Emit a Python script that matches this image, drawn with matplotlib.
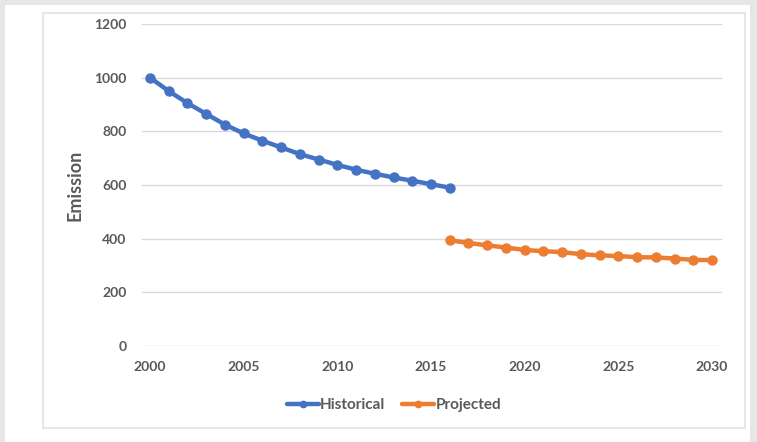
import matplotlib.pyplot as plt
from matplotlib.patches import Rectangle

# data
hist_years = list(range(2000, 2017))
hist_values = [1000, 950, 905, 865, 825, 792, 765, 740, 715, 695,
               675, 657, 642, 628, 616, 603, 590]
proj_years = list(range(2016, 2031))
proj_values = [394, 384, 375, 367, 358, 353, 350, 342, 338, 335,
               331, 330, 326, 321, 320]
x_ticks = [2000, 2005, 2010, 2015, 2020, 2025, 2030]
y_ticks = [0, 200, 400, 600, 800, 1000, 1200]

W, H = 757, 442
plt.rcParams['font.family'] = ['Lato', 'DejaVu Sans']
text_color = '#595959'

fig = plt.figure(figsize=(W / 100, H / 100), dpi=100)
fig.patch.set_facecolor('white')


def strip(x0, y0, w, h, **kw):
    # rectangle in pixel coords (y from the top), drawn behind the axes
    r = Rectangle((x0 / W, 1 - (y0 + h) / H), w / W, h / H,
                  transform=fig.transFigure, zorder=-5, **kw)
    fig.patches.append(r)


gray = '#e6e6e6'
strip(0, 0, 5, H, facecolor=gray, edgecolor='none')
strip(0, 0, W, 5, facecolor=gray, edgecolor='none')
strip(750, 0, 7, H, facecolor=gray, edgecolor='none')
strip(43, 13, 745 - 43, 428 - 13, facecolor='white', edgecolor='#e3e3e3', linewidth=1.2)

ax = fig.add_axes([142 / W, 1 - 346 / H, (722 - 142) / W, (346 - 24) / H])
ax.set_facecolor('none')

ax.plot(hist_years, hist_values, color='#4472C4', linewidth=3.2,
        marker='o', markersize=6.5, label='Historical', solid_capstyle='round')
ax.plot(proj_years, proj_values, color='#ED7D31', linewidth=3.2,
        marker='o', markersize=6.5, label='Projected', solid_capstyle='round')

ax.set_xlim(2000 - 8 / 18.73, 2030 + 10 / 18.73)
ax.set_ylim(0, 1200)
ax.set_xticks(x_ticks)
ax.set_yticks(y_ticks)
ax.grid(axis='y', color='#d9d9d9', linewidth=1)
ax.set_axisbelow(True)
for s in ax.spines.values():
    s.set_visible(False)
ax.tick_params(length=0, labelsize=10, labelcolor=text_color)
ax.tick_params(axis='y', pad=11)
ax.tick_params(axis='x', pad=11)
for lbl in ax.get_xticklabels() + ax.get_yticklabels():
    lbl.set_fontweight('bold')

ax.set_ylabel('Emission', fontsize=13, fontweight='bold', color=text_color, labelpad=8)

# legend sits centred in the chart box, not under the axes
leg = fig.legend(*ax.get_legend_handles_labels(), loc='center',
                 bbox_to_anchor=(394 / W, 1 - 405 / H), ncol=2, frameon=False,
                 prop={'size': 11, 'weight': 'bold'}, handlelength=2.1,
                 handletextpad=0.1, columnspacing=1.1, markerscale=0.7)
for t in leg.get_texts():
    t.set_color(text_color)

fig.savefig('out.png', dpi=100)
